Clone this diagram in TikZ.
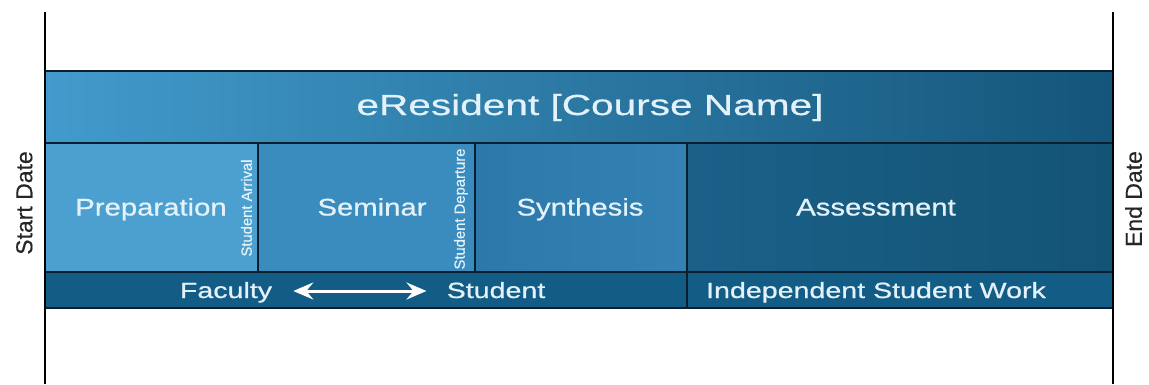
\documentclass[tikz,border=0pt]{standalone}
\usepackage{fontspec}
\setmainfont{Liberation Sans}
\newfontfamily\titlefont{Liberation Sans}[FakeStretch=1.4,FakeBold=0.6]
\newfontfamily\cellfont{Liberation Sans}[FakeStretch=1.22,FakeBold=0.8]
\newfontfamily\bandfont{Liberation Sans}[FakeStretch=1.3,FakeBold=0.8]
\newfontfamily\markfont{Liberation Sans}[FakeBold=0.5]
\newfontfamily\datefont{Liberation Sans}[FakeBold=0.3]
\usetikzlibrary{arrows.meta}
\definecolor{tleft}{HTML}{429BCC}
\definecolor{tright}{HTML}{14557A}
\definecolor{cprep}{HTML}{4CA0D0}
\definecolor{csem}{HTML}{3A8CBE}
\definecolor{csynA}{HTML}{2D78AA}
\definecolor{csynB}{HTML}{3382B3}
\definecolor{cassA}{HTML}{1A6088}
\definecolor{cassB}{HTML}{135475}
\definecolor{cband}{HTML}{125C85}
\definecolor{gridc}{HTML}{0B1F30}
\definecolor{txtc}{HTML}{E3F1F8}
\tikzset{
  gridline/.style={draw=gridc, line width=2.6pt},
  timeline/.style={draw=black, line width=2.4pt},
  titletext/.style={text=txtc, inner sep=0pt, anchor=base, font=\titlefont\fontsize{29}{32}\selectfont},
  celltext/.style={text=txtc, inner sep=0pt, anchor=base, font=\cellfont\fontsize{24}{28}\selectfont},
  bandtext/.style={text=txtc, inner sep=0pt, anchor=base, text height=16pt, text depth=4pt, font=\bandfont\fontsize{22}{26}\selectfont},
  marktext/.style={text=txtc, inner sep=0pt, rotate=90, text height=10.5pt, text depth=0pt, font=\markfont\fontsize{14.8}{16}\selectfont},
  datetext/.style={text=black!85, inner sep=0pt, rotate=90, text height=16.5pt, text depth=0pt, font=\datefont\fontsize{23}{26}\selectfont},
  bandarrow/.style={draw=white, line width=3pt, {Stealth[length=20pt,width=17pt,inset=7pt]}-{Stealth[length=20pt,width=17pt,inset=7pt]}}
}
\begin{document}
\begin{tikzpicture}[x=1pt,y=1pt]
\useasboundingbox (0,0) rectangle (1149,384);
\fill[white] (0,0) rectangle (1149,384);
% fills
\shade[left color=tleft, right color=tright] (45,241) rectangle (1113,313);
\fill[cprep] (45,112) rectangle (258,241);
\fill[csem] (258,112) rectangle (475,241);
\shade[left color=csynA, right color=csynB] (475,112) rectangle (687,241);
\shade[left color=cassA, right color=cassB] (687,112) rectangle (1113,241);
\fill[cband] (45,76) rectangle (1113,112);
% grid
\draw[gridline] (45,76) rectangle (1113,313);
\draw[gridline] (45,241) -- (1113,241);
\draw[gridline] (45,112) -- (1113,112);
\draw[gridline] (258,112) -- (258,241);
\draw[gridline] (475,112) -- (475,241);
\draw[gridline] (687,76) -- (687,241);
% timeline
\draw[timeline] (45,0) -- (45,372);
\draw[timeline] (1113,0) -- (1113,372);
% texts
\node[titletext] (title) at (590,269) {eResident [Course Name]};
\node[celltext] (prep) at (151,168.5) {Preparation};
\node[celltext] (sem) at (372,168.5) {Seminar};
\node[celltext] (syn) at (580,168.5) {Synthesis};
\node[celltext] (ass) at (876,168.5) {Assessment};
\node[bandtext] (fac) at (226,86) {Faculty};
\node[bandtext] (stu) at (496,86) {Student};
\node[bandtext] (isw) at (876,86) {Independent Student Work};
\node[marktext] (arr) at (246.5,176) {Student Arrival};
\node[marktext] (dep) at (459.5,175) {Student Departure};
\node[datetext] (start) at (24,181) {Start Date};
\node[datetext] (end) at (1133.5,185) {End Date};
\draw[bandarrow] ([xshift=21pt,yshift=1pt]fac.east) -- ([xshift=-20pt,yshift=1pt]stu.west);
\end{tikzpicture}
\end{document}
